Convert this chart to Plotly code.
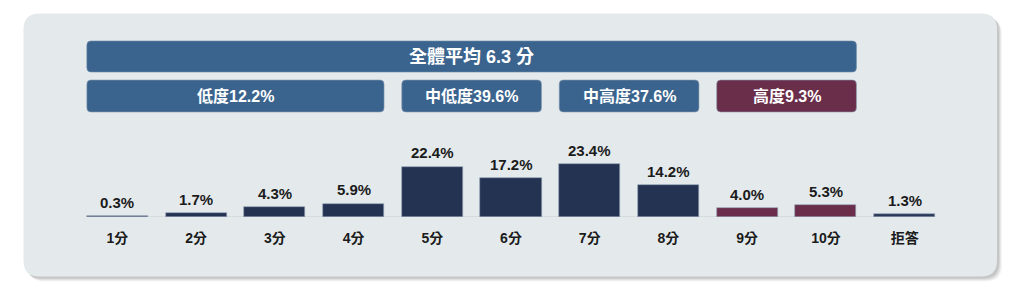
import plotly.graph_objects as go

# ---------------- data ----------------
categories = ["1分", "2分", "3分", "4分", "5分", "6分", "7分", "8分", "9分", "10分", "拒答"]
shares = [0.3, 1.7, 4.3, 5.9, 22.4, 17.2, 23.4, 14.2, 4.0, 5.3, 1.3]
bar_group = ["low", "low", "low", "low", "mid", "mid", "mid", "mid", "high", "high", "none"]

group_names = ["低度", "中低度", "中高度", "高度"]
group_pcts = [12.2, 39.6, 37.6, 9.3]
group_first = [0, 4, 6, 8]
group_last = [3, 5, 7, 9]
overall_label = "全體平均"
overall_mean = 6.3

# ---------------- style ----------------
W, H = 1024, 294
ML, MR, MT, MB = 78, 80, 0, 77
PW, PH = W - ML - MR, H - MT - MB
BAR_W = 0.775
NAVY = "#243352"
BLUE = "#3a648e"
MAROON = "#6a2e4b"
CARD = "#e4eaec"
FONT = "Liberation Sans, Noto Sans CJK TC, sans-serif"
YMAX = PH / 2.25

color_map = {"low": NAVY, "mid": NAVY, "high": MAROON, "none": "#2a3a58"}
bar_colors = [color_map[g] for g in bar_group]

step = PW / len(categories)


def yp(py):
    return (H - MB - py) / PH


def xp(px):
    return (px - ML) / PW


def rounded_path(x0, x1, y0, y1, rx, ry):
    # x0<x1, y0<y1 in the shape's own units (y up)
    return (f"M{x0+rx},{y0} L{x1-rx},{y0} Q{x1},{y0} {x1},{y0+ry} "
            f"L{x1},{y1-ry} Q{x1},{y1} {x1-rx},{y1} L{x0+rx},{y1} "
            f"Q{x0},{y1} {x0},{y1-ry} L{x0},{y0+ry} Q{x0},{y0} {x0+rx},{y0} Z")


fig = go.Figure()
fig.add_trace(go.Bar(
    x=categories, y=shares, width=BAR_W,
    marker=dict(color=bar_colors, line=dict(color="#8f9db0", width=0.6)),
    hoverinfo="skip",
))

shapes = []
# card shadow + card
cx0, cx1, cy0, cy1, cr = 23.5, 997, 13.5, 276.5, 16
for off, op in [(5, 0.06), (4, 0.08), (3, 0.10), (2, 0.12)]:
    shapes.append(dict(
        type="path", xref="paper", yref="paper", layer="below",
        path=rounded_path(xp(cx0 + off), xp(cx1 + off), yp(cy1 + off), yp(cy0 + off),
                          cr / PW, cr / PH),
        fillcolor=f"rgba(80,80,80,{op})", line=dict(width=0)))
shapes.append(dict(
    type="path", xref="paper", yref="paper", layer="below",
    path=rounded_path(xp(cx0), xp(cx1), yp(cy1), yp(cy0), cr / PW, cr / PH),
    fillcolor=CARD, line=dict(width=0)))

# baseline
shapes.append(dict(type="line", xref="x", yref="y", layer="below",
                   x0=-BAR_W / 2, x1=len(categories) - 1 + BAR_W / 2, y0=0, y1=0,
                   line=dict(color="#c6cdd1", width=1.2)))

br = 4
annotations = []
# overall banner
ox0, ox1 = group_first[0] - BAR_W / 2, group_last[-1] + BAR_W / 2
shapes.append(dict(type="path", xref="x", yref="paper",
                   path=rounded_path(ox0, ox1, yp(72), yp(41), br / step, br / PH),
                   fillcolor=BLUE, line=dict(color="#6d8aa8", width=0.6)))
annotations.append(dict(xref="x", yref="paper", x=(ox0 + ox1) / 2, y=yp(56.5),
                        xanchor="center", yanchor="middle",
                        text=f"{overall_label} {overall_mean} 分", showarrow=False,
                        font=dict(family=FONT, size=18, color="white", weight="bold")))

for name, pct, a, b in zip(group_names, group_pcts, group_first, group_last):
    gx0, gx1 = a - BAR_W / 2, b + BAR_W / 2
    col = MAROON if name == "高度" else BLUE
    shapes.append(dict(type="path", xref="x", yref="paper",
                       path=rounded_path(gx0, gx1, yp(112), yp(80), br / step, br / PH),
                       fillcolor=col, line=dict(color="#8a9ab0", width=0.6)))
    annotations.append(dict(xref="x", yref="paper", x=(gx0 + gx1) / 2, y=yp(96),
                            xanchor="center", yanchor="middle",
                            text=f"{name}{pct}%", showarrow=False,
                            font=dict(family=FONT, size=16, color="white", weight="bold")))

for c, v in zip(categories, shares):
    annotations.append(dict(x=c, y=v, xref="x", yref="y", yanchor="middle",
                            yshift=14, text=f"{v:.1f}%", showarrow=False,
                            font=dict(family=FONT, size=15, color="#1b1b1b", weight="bold")))

fig.update_layout(
    width=W, height=H,
    margin=dict(l=ML, r=MR, t=MT, b=MB, pad=0),
    paper_bgcolor="white", plot_bgcolor="rgba(0,0,0,0)",
    showlegend=False, bargap=0,
    shapes=shapes, annotations=annotations,
    xaxis=dict(type="category", showgrid=False, zeroline=False, showline=False,
               ticks="", ticklabelstandoff=11,
               tickfont=dict(family=FONT, size=14, color="#1b1b1b", weight="bold"),
               fixedrange=True),
    yaxis=dict(range=[0, YMAX], visible=False, fixedrange=True),
)

fig.write_html("out.html")
